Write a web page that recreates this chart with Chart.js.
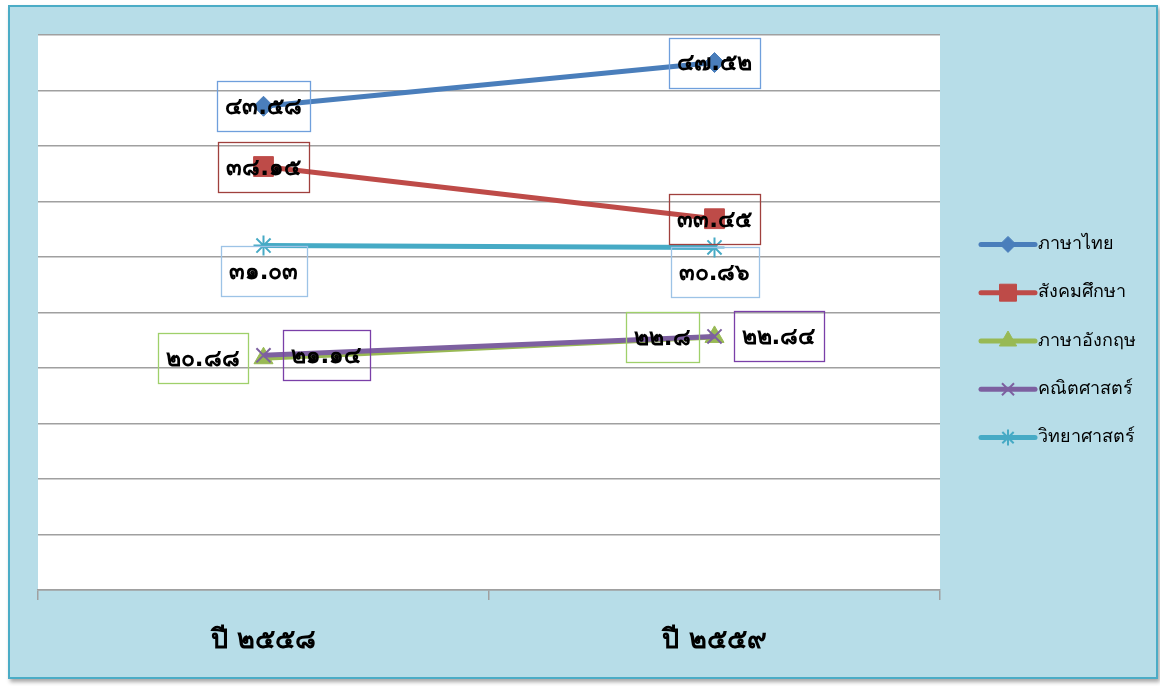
<!DOCTYPE html>
<html><head><meta charset="utf-8">
<script src="https://cdn.jsdelivr.net/npm/chart.js@4.4.0/dist/chart.umd.min.js"></script>
<style>
html,body{margin:0;padding:0;width:1160px;height:686px;background:#fff;overflow:hidden}
#frame{position:absolute;left:8px;top:5px;width:1150px;height:674px;box-sizing:border-box;background:#b7dde8;border:2px solid #4bacc6;box-shadow:2px 3px 4px rgba(0,0,0,0.35)}
#wrap{position:absolute;left:0;top:0;width:1160px;height:686px}
</style></head><body>
<div id="frame"></div>
<div id="wrap"><canvas id="c" width="1160" height="686"></canvas></div>
<script>
const categories = ['ปี ๒๕๕๘', 'ปี ๒๕๕๙'];
const seriesNames = ['ภาษาไทย', 'สังคมศึกษา', 'ภาษาอังกฤษ', 'คณิตศาสตร์', 'วิทยาศาสตร์'];
const thaiValues = [43.58, 47.52];
const socialValues = [38.15, 33.45];
const englishValues = [20.88, 22.8];
const mathValues = [21.14, 22.84];
const scienceValues = [31.03, 30.86];
const yMin = 0, yMax = 50, yStep = 5;

const FONT = 'Tahoma, "DejaVu Sans", "Noto Sans", sans-serif';
const toThai = s => s.replace(/[0-9]/g, d => String.fromCharCode(0x0E50 + Number(d)));

const bgPlugin = {
  id: 'plotBg',
  beforeDraw(chart) {
    const {ctx, chartArea: a} = chart;
    ctx.save();
    ctx.fillStyle = '#ffffff';
    ctx.fillRect(a.left, a.top, a.right - a.left, a.bottom - a.top);
    ctx.restore();
  }
};

const labelPlugin = {
  id: 'valueLabels',
  afterDatasetsDraw(chart) {
    const ctx = chart.ctx;
    chart.data.datasets.forEach((ds, di) => {
      const meta = chart.getDatasetMeta(di);
      meta.data.forEach((pt, i) => {
        const txt = toThai(String(ds.data[i]));
        ctx.save();
        ctx.font = 'bold 23px ' + FONT;
        const tw = ctx.measureText(txt).width;
        const bw = tw + 16, bh = 50;
        let cx = pt.x, cy = pt.y;
        if (ds.labelPos === 'left') cx = pt.x - 16 - bw / 2;
        else if (ds.labelPos === 'right') cx = pt.x + 19 + bw / 2;
        else if (ds.labelPos === 'below') cy = pt.y + bh / 2;
        ctx.strokeStyle = ds.labelBorder;
        ctx.lineWidth = 1.3;
        ctx.strokeRect(Math.round(cx - bw / 2) + 0.5, Math.round(cy - bh / 2) + 0.5, Math.round(bw), bh);
        ctx.fillStyle = '#000';
        ctx.textAlign = 'center';
        ctx.textBaseline = 'middle';
        ctx.fillText(txt, cx, cy + 2);
        ctx.restore();
      });
    });
  }
};

const legendPlugin = {
  id: 'lineLegend',
  afterDraw(chart) {
    const ctx = chart.ctx, a = chart.chartArea;
    const x0 = a.right + 41, x1 = a.right + 95, xm = (x0 + x1) / 2;
    const gap = 48.3, n = chart.data.datasets.length;
    const yStart = chart.height / 2 - 2 - gap * (n - 1) / 2;
    chart.data.datasets.forEach((ds, i) => {
      const y = yStart + i * gap;
      ctx.save();
      ctx.strokeStyle = ds.borderColor;
      ctx.lineWidth = 5;
      ctx.lineCap = 'round';
      ctx.beginPath(); ctx.moveTo(x0, y); ctx.lineTo(x1, y); ctx.stroke();
      ctx.fillStyle = ds.pointBackgroundColor;
      ctx.strokeStyle = ds.pointBorderColor;
      ctx.lineWidth = ds.pointBorderWidth;
      ctx.lineCap = 'butt';
      Chart.helpers.drawPoint(ctx, {pointStyle: ds.pointStyle, radius: ds.legendRadius, borderWidth: ds.pointBorderWidth, rotation: 0}, xm, y);
      ctx.fillStyle = '#000';
      ctx.font = '18px ' + FONT;
      ctx.textAlign = 'left';
      ctx.textBaseline = 'middle';
      ctx.fillText(ds.label, x1 + 3, y);
      ctx.restore();
    });
  }
};

function mk(idx, label, data, color, style, radius, legendRadius, bw, labelPos, labelBorder) {
  return {
    label, data, borderColor: color, backgroundColor: color,
    pointBackgroundColor: color, pointBorderColor: color,
    pointStyle: style, pointRadius: radius, pointHoverRadius: radius, pointBorderWidth: bw,
    borderWidth: 5, tension: 0, clip: false, order: -idx,
    legendRadius, labelPos, labelBorder
  };
}

new Chart(document.getElementById('c'), {
  type: 'line',
  data: {
    labels: categories,
    datasets: [
      mk(0, seriesNames[0], thaiValues, '#4a7ebb', 'rectRot', 10, 8, 1, 'center', '#6f9fdc'),
      mk(1, seriesNames[1], socialValues, '#be4b48', 'rect', 14, 12, 1, 'center', '#a0403d'),
      mk(2, seriesNames[2], englishValues, '#98b954', 'triangle', 11, 10, 1, 'left', '#9fd06a'),
      mk(3, seriesNames[3], mathValues, '#7d60a0', 'crossRot', 10, 8.5, 2, 'right', '#7a3fa8'),
      mk(4, seriesNames[4], scienceValues, '#46aac5', 'star', 10, 8, 2, 'below', '#9dc3e6')
    ]
  },
  options: {
    responsive: false,
    animation: false,
    events: [],
    layout: {padding: {left: 38, top: 35, right: 220, bottom: 0}},
    plugins: {legend: {display: false}, tooltip: {enabled: false}},
    scales: {
      x: {
        offset: true,
        afterFit(s) { s.height = 96; },
        grid: {display: true, drawOnChartArea: false, drawTicks: true, tickLength: 10, color: '#a0a0a0', lineWidth: 1.5, offset: true},
        border: {display: true, color: '#a0a0a0', width: 1.5},
        ticks: {color: '#000', padding: 25, font: {family: FONT, size: 27, weight: 'bold'}}
      },
      y: {
        min: yMin, max: yMax,
        afterFit(s) { s.width = 0; },
        ticks: {display: false, stepSize: yStep},
        grid: {color: '#a0a0a0', lineWidth: 1.5, drawTicks: false},
        border: {display: false}
      }
    }
  },
  plugins: [bgPlugin, labelPlugin, legendPlugin]
});
</script>
</body></html>
